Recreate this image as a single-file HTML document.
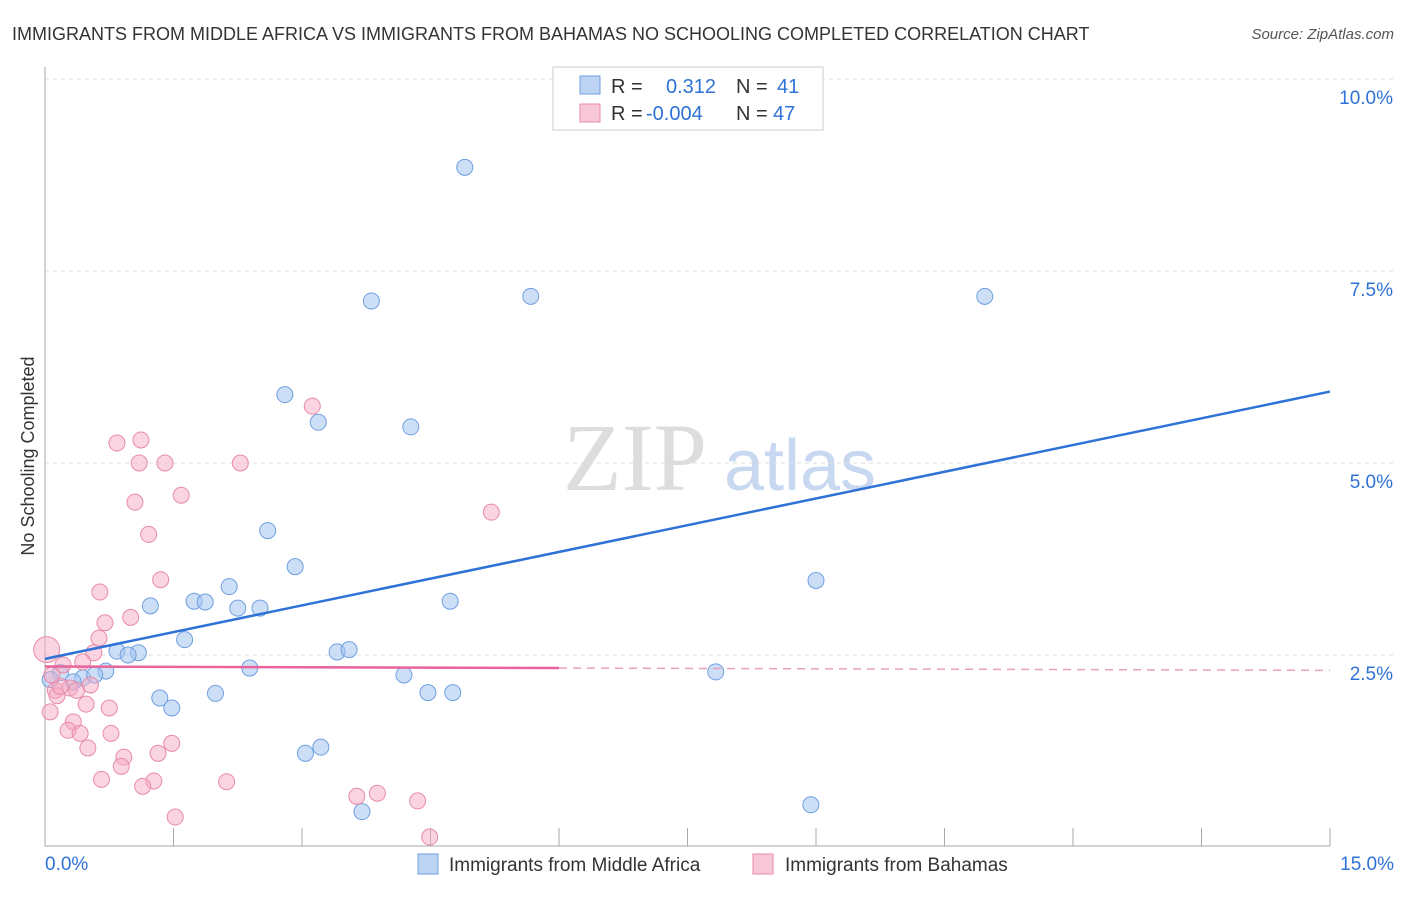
<!DOCTYPE html>
<html><head><meta charset="utf-8"><style>
body{margin:0;background:#fff;font-family:"Liberation Sans",sans-serif;}
</style></head><body>
<svg width="1406" height="892" xmlns="http://www.w3.org/2000/svg" font-family="Liberation Sans, sans-serif">
<text x="12" y="40" font-size="18" fill="#333">IMMIGRANTS FROM MIDDLE AFRICA VS IMMIGRANTS FROM BAHAMAS NO SCHOOLING COMPLETED CORRELATION CHART</text>
<text x="1394" y="39" font-size="15" fill="#555" font-style="italic" text-anchor="end">Source: ZipAtlas.com</text>
<text x="0" y="0" transform="translate(34,456) rotate(-90)" font-size="18" fill="#333" text-anchor="middle">No Schooling Completed</text>
<g><text x="635" y="490" font-size="96" fill="#ddd" font-family="Liberation Serif, serif" text-anchor="middle">ZIP</text><text x="800" y="490" font-size="72" fill="#c8d8f0" text-anchor="middle">atlas</text></g>
<g id="grid"></g><g id="axes"></g><g id="pts"></g><g id="lines"></g>
<g>
<rect x="553" y="67" width="270" height="63" fill="#fff" stroke="#ccc"/>
<rect x="580" y="76" width="20" height="18" fill="#bcd3f3" stroke="#6f9fe0"/>
<rect x="580" y="104" width="20" height="18" fill="#f8c8d8" stroke="#e88aab"/>
<text x="611" y="93" font-size="20" fill="#333">R =</text><text x="666" y="93" font-size="20" fill="#2f72d6">0.312</text>
<text x="736" y="93" font-size="20" fill="#333">N =</text><text x="777" y="93" font-size="20" fill="#2f72d6">41</text>
<text x="611" y="120" font-size="20" fill="#333">R =</text><text x="646" y="120" font-size="20" fill="#2f72d6">-0.004</text>
<text x="736" y="120" font-size="20" fill="#333">N =</text><text x="773" y="120" font-size="20" fill="#2f72d6">47</text>
</g>
<g>
<rect x="418" y="854" width="20" height="20" fill="#bcd3f3" stroke="#6f9fe0"/>
<text x="449" y="871" font-size="19" fill="#333">Immigrants from Middle Africa</text>
<rect x="753" y="854" width="20" height="20" fill="#f8c8d8" stroke="#e88aab"/>
<text x="785" y="871" font-size="19" fill="#333">Immigrants from Bahamas</text>
</g>
</svg>
<script>
const ns="http://www.w3.org/2000/svg";
const xMin=0,xMax=15,yMin=0,yMax=10;
const yTicks=[2.5,5.0,7.5,10.0];
const yTickLabels=["2.5%","5.0%","7.5%","10.0%"];
const xTickLabels=["0.0%","15.0%"];
const blueX=[4.9,3.81,5.67,10.97,2.8,3.19,4.27,2.6,2.92,9.0,2.15,1.23,1.74,1.87,2.25,2.51,4.73,1.63,0.84,1.09,0.97,3.41,3.55,2.39,4.19,7.83,0.71,0.18,0.44,0.33,1.34,1.48,1.99,4.47,4.76,3.04,3.22,3.7,8.94,0.06,0.58];
const blueY=[8.85,7.11,7.17,7.17,5.89,5.53,5.47,4.12,3.65,3.47,3.39,3.14,3.2,3.19,3.11,3.11,3.2,2.7,2.55,2.53,2.5,2.54,2.57,2.33,2.24,2.28,2.29,2.27,2.2,2.15,1.94,1.81,2.0,2.01,2.01,1.22,1.3,0.46,0.55,2.18,2.24];
const pinkX=[0.02,3.12,1.12,0.84,1.1,1.4,2.28,1.59,1.05,1.21,5.21,1.35,0.64,1.0,0.7,0.63,0.57,0.44,0.21,0.12,0.29,0.37,0.53,0.14,0.06,0.48,0.75,0.33,0.27,0.41,0.77,0.5,0.92,1.32,1.48,0.89,0.66,1.27,1.14,2.12,3.64,3.88,4.35,1.52,4.49,0.18,0.08];
const pinkY=[2.57,5.74,5.3,5.26,5.0,5.0,5.0,4.58,4.49,4.07,4.36,3.48,3.32,2.99,2.92,2.72,2.53,2.41,2.37,2.04,2.07,2.04,2.11,1.97,1.76,1.86,1.81,1.63,1.52,1.48,1.48,1.29,1.17,1.22,1.35,1.05,0.88,0.86,0.79,0.85,0.66,0.7,0.6,0.39,0.13,2.09,2.24];
const blueFit=[2.45,5.93];
const pinkFit=[2.35,2.3];
const X=v=>45+(v-xMin)/(xMax-xMin)*1285;
const Y=v=>847-(v-yMin)/(yMax-yMin)*768;
function mk(t,a,p){const e=document.createElementNS(ns,t);for(const k in a)e.setAttribute(k,a[k]);p.appendChild(e);return e;}
const grid=document.getElementById('grid'),axes=document.getElementById('axes'),pts=document.getElementById('pts'),lines=document.getElementById('lines');
yTicks.forEach((t,i)=>{
 const l=mk('line',{x1:45,x2:1394,y1:Y(t),y2:Y(t),stroke:'#ddd','stroke-dasharray':'4,4'},grid);
 
 
 const tx=mk('text',{x:1393,y:Y(t)+25,'font-size':19,fill:'#2f72d6','text-anchor':'end'},axes);
 tx.textContent=yTickLabels[i];
 
 
});
const ax=mk('line',{x1:45,x2:45,y1:67,y2:846,stroke:'#aaa'},axes);


const bx=mk('line',{x1:45,x2:1330,y1:846,y2:846,stroke:'#aaa'},axes);


for(let i=0;i<=10;i++){
 const t=mk('line',{x1:X(i*1.5),x2:X(i*1.5),y1:828,y2:846,stroke:'#aaa'},axes);
 
 
}
[[0,'start',45],[15,'end',1394]].forEach((d,i)=>{
 const tx=mk('text',{x:d[2],y:870,'font-size':19,fill:'#2f72d6','text-anchor':d[1]},axes);
 tx.textContent=xTickLabels[i];
 
 
});
blueX.forEach((x,i)=>{
 const c=mk('circle',{cx:X(x),cy:Y(blueY[i]),r:8,fill:'rgba(164,196,240,0.55)',stroke:'#6f9fe0','stroke-width':1},pts);
 
 
});
pinkX.forEach((x,i)=>{
 const c=mk('circle',{cx:X(x),cy:Y(pinkY[i]),r:i==0?13:8,fill:'rgba(245,170,195,0.5)',stroke:'#e88aab','stroke-width':1},pts);
 
 
});
const bl=mk('line',{x1:X(0),y1:Y(blueFit[0]),x2:X(15),y2:Y(blueFit[1]),stroke:'#2f72d6','stroke-width':2.5},lines);


const pm=pinkFit[0]+(pinkFit[1]-pinkFit[0])*0.4;
const pl=mk('line',{x1:X(0),y1:Y(pinkFit[0]),x2:X(6),y2:Y(pm),stroke:'#e8649a','stroke-width':2.5},lines);


const pd=mk('line',{x1:X(6),y1:Y(pm),x2:X(15),y2:Y(pinkFit[1]),stroke:'#e8a0bd','stroke-width':1.5,'stroke-dasharray':'8,6'},lines);


</script>
</body></html>
